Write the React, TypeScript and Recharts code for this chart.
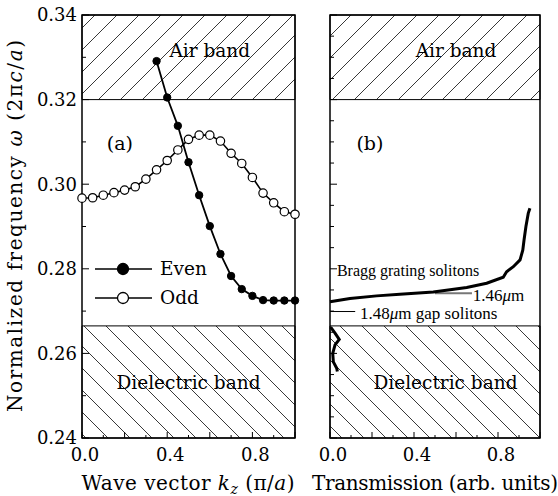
import React from 'react'
import { ComposedChart, Line, XAxis, YAxis, ReferenceArea, ReferenceDot, ReferenceLine, Legend } from 'recharts'

// (a) band structure: even / odd modes vs wave vector kz (pi/a)
const evenK = [0.35, 0.4, 0.45, 0.5, 0.55, 0.6, 0.65, 0.7, 0.75, 0.8, 0.85, 0.9, 0.95, 1.0]
const evenW = [0.3291, 0.3205, 0.3138, 0.3052, 0.2974, 0.2901, 0.2835, 0.2783, 0.2752, 0.2736, 0.2726, 0.2725, 0.2725, 0.2725]
const oddK = [0, 0.05, 0.1, 0.15, 0.2, 0.25, 0.3, 0.35, 0.4, 0.45, 0.5, 0.55, 0.6, 0.65, 0.7, 0.75, 0.8, 0.85, 0.9, 0.95, 1.0]
const oddW = [0.2967, 0.2968, 0.2974, 0.298, 0.2986, 0.2994, 0.3012, 0.3034, 0.3056, 0.3081, 0.3106, 0.3116, 0.3116, 0.3102, 0.3073, 0.3049, 0.3016, 0.2979, 0.2956, 0.2935, 0.2929]

// (b) transmission spectrum
const braggT = [0, 0.095, 0.222, 0.333, 0.492, 0.651, 0.746, 0.825, 0.841, 0.873, 0.905, 0.918, 0.924, 0.933, 0.944, 0.952]
const braggW = [0.2722, 0.273, 0.2736, 0.274, 0.2745, 0.2756, 0.2766, 0.278, 0.2793, 0.2805, 0.2821, 0.2844, 0.2868, 0.29, 0.2931, 0.2943]
const gapT = [0.003, 0.024, 0.044, 0.024, 0.013, 0.016, 0.032, 0.035]
const gapW = [0.2662, 0.2648, 0.2633, 0.262, 0.26, 0.258, 0.2565, 0.2557]

// photonic bands
const airBand = [0.32, 0.34]
const dielectricBand = [0.24, 0.2665]

const freqDomain = [0.24, 0.34]
const freqTicks = [0.24, 0.25, 0.26, 0.27, 0.28, 0.29, 0.3, 0.31, 0.32, 0.33, 0.34]
const freqFineTicks = [0.24, 0.245, 0.25, 0.255, 0.26, 0.265, 0.27, 0.275, 0.28, 0.285, 0.29, 0.295, 0.3, 0.305, 0.31, 0.315, 0.32, 0.325, 0.33, 0.335, 0.34]
const xTicks = [0, 0.1, 0.2, 0.3, 0.4, 0.5, 0.6, 0.7, 0.8, 0.9, 1.0]
const xLabels = [0, 0.4, 0.8]

const legendItems = [
  { label: 'Even', fill: '#000' },
  { label: 'Odd', fill: '#fff' },
]

const FONT = '"DejaVu Serif", serif'
const TIMES = '"Liberation Serif", "Times New Roman", serif'

const evenData = evenK.map((k, i) => ({ k, w: evenW[i] }))
const oddData = oddK.map((k, i) => ({ k, w: oddW[i] }))
const braggData = braggT.map((t, i) => ({ t, w: braggW[i] }))
const gapData = gapT.map((t, i) => ({ t, w: gapW[i] }))

const near = (v: number, step: number) => Math.abs(v / step - Math.round(v / step)) < 1e-6

const leftTick = (labelled: boolean) => (p: any) => {
  const v = p.payload.value as number
  const major = near(v, 0.02)
  return (
    <g>
      <line x1={p.x} x2={p.x + (major ? 7 : 4)} y1={p.y} y2={p.y} stroke="#000" />
      {labelled && major && (
        <text x={p.x - 5} y={p.y} dy="0.36em" textAnchor="end" fontFamily={FONT} fontSize={18} fill="#000">
          {v.toFixed(2)}
        </text>
      )}
    </g>
  )
}

const rightTick = (p: any) => {
  const major = near(p.payload.value, 0.02)
  return <line x1={p.x} x2={p.x - (major ? 7 : 4)} y1={p.y} y2={p.y} stroke="#000" />
}

const topTick = (p: any) => {
  const major = near(p.payload.value, 0.2)
  return <line x1={p.x} x2={p.x} y1={p.y} y2={p.y + (major ? 6 : 3)} stroke="#000" />
}

const bottomTick = (p: any) => {
  const v = p.payload.value as number
  const major = near(v, 0.2)
  const show = xLabels.some((l) => Math.abs(l - v) < 1e-6)
  return (
    <g>
      <line x1={p.x} x2={p.x} y1={p.y} y2={p.y - (major ? 6 : 3)} stroke="#000" />
      {show && (
        <text x={p.x + 3} y={p.y + 23} textAnchor="middle" fontFamily={FONT} fontSize={18} fill="#000">
          {v.toFixed(1)}
        </text>
      )}
    </g>
  )
}

type NoteOpts = { anchor?: 'start' | 'middle' | 'end'; size?: number; family?: string }
const note = (body: React.ReactNode, o: NoteOpts = {}) => ({
  content: (p: any) => {
    const vb = p.viewBox || {}
    return (
      <text
        x={vb.x}
        y={vb.y}
        dy="0.35em"
        textAnchor={o.anchor ?? 'middle'}
        fontFamily={o.family ?? FONT}
        fontSize={o.size ?? 18.5}
        fill="#000"
      >
        {body}
      </text>
    )
  },
})

const hatchDefs = (suffix: string) => (
  <defs>
    <pattern id={`rise${suffix}`} patternUnits="userSpaceOnUse" width={22} height={22}>
      <rect width={22} height={22} fill="#fff" />
      <path d="M-2,2 L2,-2 M0,22 L22,0 M20,24 L24,20" stroke="#222" strokeWidth={0.9} />
    </pattern>
    <pattern id={`fall${suffix}`} patternUnits="userSpaceOnUse" width={22} height={22}>
      <rect width={22} height={22} fill="#fff" />
      <path d="M-2,20 L2,24 M0,0 L22,22 M20,-2 L24,2" stroke="#222" strokeWidth={0.9} />
    </pattern>
  </defs>
)

const renderLegend = () => (
  <div style={{ fontFamily: FONT, fontSize: 18.5, color: '#000' }}>
    {legendItems.map((item) => (
      <div key={item.label} style={{ display: 'flex', alignItems: 'center', height: 29 }}>
        <svg width={58} height={16}>
          <line x1={0} x2={57} y1={8} y2={8} stroke="#000" strokeWidth={1.6} />
          <circle cx={28} cy={8} r={5.5} fill={item.fill} stroke="#000" strokeWidth={1.3} />
        </svg>
        <span style={{ marginLeft: 7 }}>{item.label}</span>
      </div>
    ))}
  </div>
)

function BandPanel() {
  return (
    <ComposedChart width={310} height={496} margin={{ top: 10, right: 10, bottom: 28, left: 22 }}>
      {hatchDefs('A')}
      <XAxis dataKey="k" type="number" domain={[0, 1]} ticks={xTicks} interval={0} height={30}
        tickSize={0} tickMargin={0} tickLine={false} axisLine={false} tick={bottomTick} />
      <XAxis xAxisId="top" orientation="top" type="number" domain={[0, 1]} ticks={xTicks} interval={0} height={5}
        tickSize={0} tickMargin={0} tickLine={false} axisLine={false} tick={topTick} />
      <YAxis type="number" domain={freqDomain} ticks={freqTicks} interval={0} width={60}
        tickSize={0} tickMargin={0} tickLine={false} axisLine={false} tick={leftTick(true)} />
      <YAxis yAxisId="right" orientation="right" type="number" domain={freqDomain} ticks={freqFineTicks} interval={0} width={5}
        tickSize={0} tickMargin={0} tickLine={false} axisLine={false} tick={rightTick} />
      <ReferenceArea x1={0} x2={1} y1={airBand[0]} y2={airBand[1]} fill="url(#riseA)" fillOpacity={1} stroke="#000" strokeWidth={1} />
      <ReferenceArea x1={0} x2={1} y1={dielectricBand[0]} y2={dielectricBand[1]} fill="url(#fallA)" fillOpacity={1} stroke="#000" strokeWidth={1} />
      <ReferenceArea x1={0} x2={1} y1={freqDomain[0]} y2={freqDomain[1]} fill="none" stroke="#000" strokeWidth={1.5} />
      <ReferenceDot x={0.6} y={0.3317} r={0} fill="none" stroke="none" label={note('Air band')} />
      <ReferenceDot x={0.178} y={0.3097} r={0} fill="none" stroke="none" label={note('(a)', { size: 19 })} />
      <ReferenceDot x={0.5} y={0.253} r={0} fill="none" stroke="none" label={note('Dielectric band')} />
      <Line data={oddData} dataKey="w" type="linear" stroke="#000" strokeWidth={1.6} isAnimationActive={false}
        activeDot={false} dot={{ r: 4.2, fill: '#fff', stroke: '#000', strokeWidth: 1.2, clipDot: false } as any} />
      <Line data={evenData} dataKey="w" type="linear" stroke="#000" strokeWidth={1.8} isAnimationActive={false}
        activeDot={false} dot={{ r: 3.7, fill: '#000', stroke: '#000', strokeWidth: 1, clipDot: false } as any} />
      <Legend layout="vertical" align="center" verticalAlign="middle" content={renderLegend}
        wrapperStyle={{ left: 95, top: 254, width: 130, height: 58 }} />
    </ComposedChart>
  )
}

function TransmissionPanel() {
  return (
    <ComposedChart width={258} height={496} margin={{ top: 10, right: 13, bottom: 28, left: 0 }}>
      {hatchDefs('B')}
      <XAxis dataKey="t" type="number" domain={[0, 1]} ticks={xTicks} interval={0} height={30}
        tickSize={0} tickMargin={0} tickLine={false} axisLine={false} tick={bottomTick} />
      <XAxis xAxisId="top" orientation="top" type="number" domain={[0, 1]} ticks={xTicks} interval={0} height={5}
        tickSize={0} tickMargin={0} tickLine={false} axisLine={false} tick={topTick} />
      <YAxis type="number" domain={freqDomain} ticks={freqFineTicks} interval={0} width={30}
        tickSize={0} tickMargin={0} tickLine={false} axisLine={false} tick={leftTick(false)} />
      <YAxis yAxisId="right" orientation="right" type="number" domain={freqDomain} ticks={freqFineTicks} interval={0} width={5}
        tickSize={0} tickMargin={0} tickLine={false} axisLine={false} tick={rightTick} />
      <ReferenceArea x1={0} x2={1} y1={airBand[0]} y2={airBand[1]} fill="url(#riseB)" fillOpacity={1} stroke="#000" strokeWidth={1} />
      <ReferenceArea x1={0} x2={1} y1={dielectricBand[0]} y2={dielectricBand[1]} fill="url(#fallB)" fillOpacity={1} stroke="#000" strokeWidth={1} />
      <ReferenceArea x1={0} x2={1} y1={freqDomain[0]} y2={freqDomain[1]} fill="none" stroke="#000" strokeWidth={1.5} />
      <ReferenceDot x={0.6} y={0.3317} r={0} fill="none" stroke="none" label={note('Air band')} />
      <ReferenceDot x={0.19} y={0.3097} r={0} fill="none" stroke="none" label={note('(b)', { size: 19 })} />
      <ReferenceDot x={0.55} y={0.253} r={0} fill="none" stroke="none" label={note('Dielectric band')} />
      <ReferenceLine segment={[{ x: 0, y: 0.2699 }, { x: 0.12, y: 0.2699 }]} stroke="#000" strokeWidth={1} />
      <ReferenceLine segment={[{ x: 0.5, y: 0.2742 }, { x: 0.676, y: 0.2742 }]} stroke="#777" strokeWidth={2} />
      <ReferenceDot x={0.033} y={0.2797} r={0} fill="none" stroke="none"
        label={note('Bragg grating solitons', { anchor: 'start', size: 16, family: TIMES })} />
      <ReferenceDot x={0.68} y={0.2738} r={0} fill="none" stroke="none"
        label={note(<>1.46<tspan fontStyle="italic">μ</tspan>m</>, { anchor: 'start', size: 17, family: TIMES })} />
      <ReferenceDot x={0.143} y={0.2696} r={0} fill="none" stroke="none"
        label={note(<>1.48<tspan fontStyle="italic">μ</tspan>m gap  solitons</>, { anchor: 'start', size: 17, family: TIMES })} />
      <Line data={braggData} dataKey="w" type="linear" stroke="#000" strokeWidth={3} dot={false} activeDot={false} isAnimationActive={false} />
      <Line data={gapData} dataKey="w" type="linear" stroke="#000" strokeWidth={3} dot={false} activeDot={false} isAnimationActive={false} />
    </ComposedChart>
  )
}

export default function App() {
  return (
    <div style={{ position: 'fixed', left: 0, top: 0, width: 558, height: 496, background: '#fff', fontFamily: FONT }}>
      <div style={{ position: 'absolute', left: 0, top: 0 }}>
        <BandPanel />
      </div>
      <div style={{ position: 'absolute', left: 300, top: 0 }}>
        <TransmissionPanel />
      </div>
      <svg width={558} height={496} style={{ position: 'absolute', left: 0, top: 0, pointerEvents: 'none' }}>
        <text x={188} y={490} textAnchor="middle" fontFamily={FONT} fontSize={20} fill="#000" textLength={213} lengthAdjust="spacing">
          Wave vector <tspan fontStyle="italic">k</tspan>
          <tspan fontStyle="italic" fontSize={14} dy={4}>z</tspan>
          <tspan dy={-4}> (π/</tspan>
          <tspan fontStyle="italic">a</tspan>)
        </text>
        <text x={435} y={490} textAnchor="middle" fontFamily={FONT} fontSize={20} fill="#000" textLength={246} lengthAdjust="spacing">
          Transmission (arb. units)
        </text>
        <text transform="translate(22,226) rotate(-90)" textAnchor="middle" fontFamily={FONT} fontSize={20} fill="#000"
          textLength={372} lengthAdjust="spacing">
          Normalized frequency <tspan fontStyle="italic">ω</tspan> (2π<tspan fontStyle="italic">c</tspan>/<tspan fontStyle="italic">a</tspan>)
        </text>
      </svg>
    </div>
  )
}
